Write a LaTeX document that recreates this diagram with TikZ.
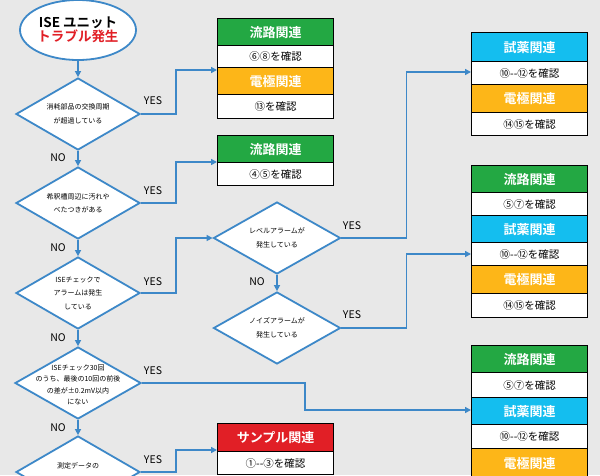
\documentclass[tikz,border=0pt]{standalone}
\usepackage{fontspec}
\newfontfamily\jp{Noto Sans CJK JP}
\newfontfamily\jpb{Noto Sans CJK JP Bold}
\usetikzlibrary{shapes.geometric,arrows.meta}
\definecolor{bg}{HTML}{E8E8E8}
\definecolor{ln}{HTML}{3D88C8}
\definecolor{cgreen}{HTML}{23A843}
\definecolor{corange}{HTML}{FDB618}
\definecolor{ccyan}{HTML}{14BEEF}
\definecolor{cred}{HTML}{E11F26}
\begin{document}
\begin{tikzpicture}[x=1pt,y=-1pt,
  flow/.style={draw=ln,line width=1.6pt},
  arr/.style={flow,-{Triangle[length=6pt,width=6pt]}},
  dia/.style={diamond,draw=ln,line width=1.8pt,fill=white,aspect=1.72,inner sep=0pt,minimum width=124pt,minimum height=72pt,align=center,font=\jp\fontsize{7}{13.5}\selectfont},
  hdr/.style={draw=black,line width=1.2pt,anchor=north west,minimum width=116pt,text=white,font=\jpb\fontsize{13}{13}\selectfont,inner sep=0pt},
  row/.style={draw=black,line width=1.2pt,anchor=north west,minimum width=116pt,fill=white,font=\jp\fontsize{10.5}{11}\selectfont,inner sep=0pt},
  lab/.style={font=\jp\fontsize{10.5}{10}\selectfont}]
\useasboundingbox[fill=bg] (0,0) rectangle (600,475);
\clip (0,0) rectangle (600,475);
% start
\node[ellipse,draw=ln,line width=1.8pt,fill=white,minimum width=116pt,minimum height=60pt,align=center,inner sep=0pt] (s) at (78,30)
 {{\jpb\fontsize{13.5}{17}\selectfont ISE ユニット}\\{\jpb\fontsize{13.5}{17}\selectfont\color{cred}トラブル発生}};
% diamonds
\node[dia] (d1) at (78,114) {消耗部品の交換周期\\が超過している};
\node[dia] (d2) at (78,203) {希釈槽周辺に汚れや\\べたつきがある};
\node[dia] (d3) at (78,293) {ISEチェックで\\アラームは発生\\している};
\node[dia,minimum width=126pt] (d4) at (78,383) {};
\node[align=center,font=\jp\fontsize{7}{11.5}\selectfont] (d4t) at (78,385) {ISEチェック30回\\のうち、最後の10回の前後\\の差が±0.2mV以内\\にない};
\node[dia] (d5) at (78,472) {};
\node[font=\jp\fontsize{7}{9}\selectfont] (d5t) at (78,466) {測定データの};
\node[dia,minimum width=127pt] (dl) at (277,238) {レベルアラームが\\発生している};
\node[dia,minimum width=127pt] (dn) at (277,328) {ノイズアラームが\\発生している};
% box A
\node[hdr,fill=cgreen,minimum height=27pt] (a1) at (217,18) {流路関連};
\node[row,minimum height=22pt] (a2) at (217,45) {⑥⑧を確認};
\node[hdr,fill=corange,minimum height=27pt] (a3) at (217,67) {電極関連};
\node[row,minimum height=24pt] (a4) at (217,94) {⑬を確認};
% box B
\node[hdr,fill=cgreen,minimum height=27pt] (b1) at (217,135) {流路関連};
\node[row,minimum height=23pt] (b2) at (217,162) {④⑤を確認};
% box C
\node[hdr,fill=ccyan,minimum height=29pt] (c1) at (471,32) {試薬関連};
\node[row,minimum height=23pt] (c2) at (471,61) {⑩--⑫を確認};
\node[hdr,fill=corange,minimum height=28pt] (c3) at (471,84) {電極関連};
\node[row,minimum height=23pt] (c4) at (471,112) {⑭⑮を確認};
% box D
\node[hdr,fill=cgreen,minimum height=27pt] (e1) at (471,165) {流路関連};
\node[row,minimum height=23pt] (e2) at (471,192) {⑤⑦を確認};
\node[hdr,fill=ccyan,minimum height=27pt] (e3) at (471,215) {試薬関連};
\node[row,minimum height=23pt] (e4) at (471,242) {⑩--⑫を確認};
\node[hdr,fill=corange,minimum height=28pt] (e5) at (471,265) {電極関連};
\node[row,minimum height=24pt] (e6) at (471,293) {⑭⑮を確認};
% box E
\node[hdr,fill=cgreen,minimum height=27pt] (f1) at (471,345) {流路関連};
\node[row,minimum height=25pt] (f2) at (471,372) {⑤⑦を確認};
\node[hdr,fill=ccyan,minimum height=27pt] (f3) at (471,397) {試薬関連};
\node[row,minimum height=24pt] (f4) at (471,424) {⑩--⑫を確認};
\node[hdr,fill=corange,minimum height=30pt] (f5) at (471,448) {電極関連};
% box F
\node[hdr,fill=cred,minimum height=28pt] (g1) at (217,423) {サンプル関連};
\node[row,minimum height=23pt] (g2) at (217,451) {①--③を確認};
% entry points
\coordinate (ain) at (217,70);
\coordinate (bin) at (217,162);
\coordinate (cin) at (471,72);
\coordinate (din) at (471,254);
\coordinate (ein) at (471,410);
\coordinate (gin) at (217,450);
% connectors
\draw[arr] (s.south) -- (d1.north);
\draw[arr] (d1.south) -- (d2.north);
\draw[arr] (d2.south) -- (d3.north);
\draw[arr] (d3.south) -- (d4.north);
\draw[arr] (d4.south) -- (d5.north);
\draw[arr] (dl.south) -- (dn.north);
\draw[arr] (d1.east) -- ++(35,0) |- (ain);
\draw[arr] (d2.east) -- ++(35,0) |- (bin);
\draw[arr] (d3.east) -- ++(35,0) |- (dl.west);
\draw[arr] (dl.east) -- ++(65,0) |- (cin);
\draw[arr] (dn.east) -- ++(65,0) |- (din);
\draw[arr] (d4.east) -- (305,383) |- (ein);
\draw[arr] (d5.east) -- ++(35,0) |- (gin);
% labels
\node[lab] (y1) at (153,101) {YES};
\node[lab] (y2) at (153,191) {YES};
\node[lab] (y3) at (153,282) {YES};
\node[lab] (y4) at (153,371) {YES};
\node[lab] (y5) at (153,460) {YES};
\node[lab] (y6) at (352,226) {YES};
\node[lab] (y7) at (352,315) {YES};
\node[lab] (n1) at (58,158) {NO};
\node[lab] (n2) at (58,248) {NO};
\node[lab] (n3) at (58,338) {NO};
\node[lab] (n4) at (58,428) {NO};
\node[lab] (n5) at (257,282) {NO};
\end{tikzpicture}
\end{document}
